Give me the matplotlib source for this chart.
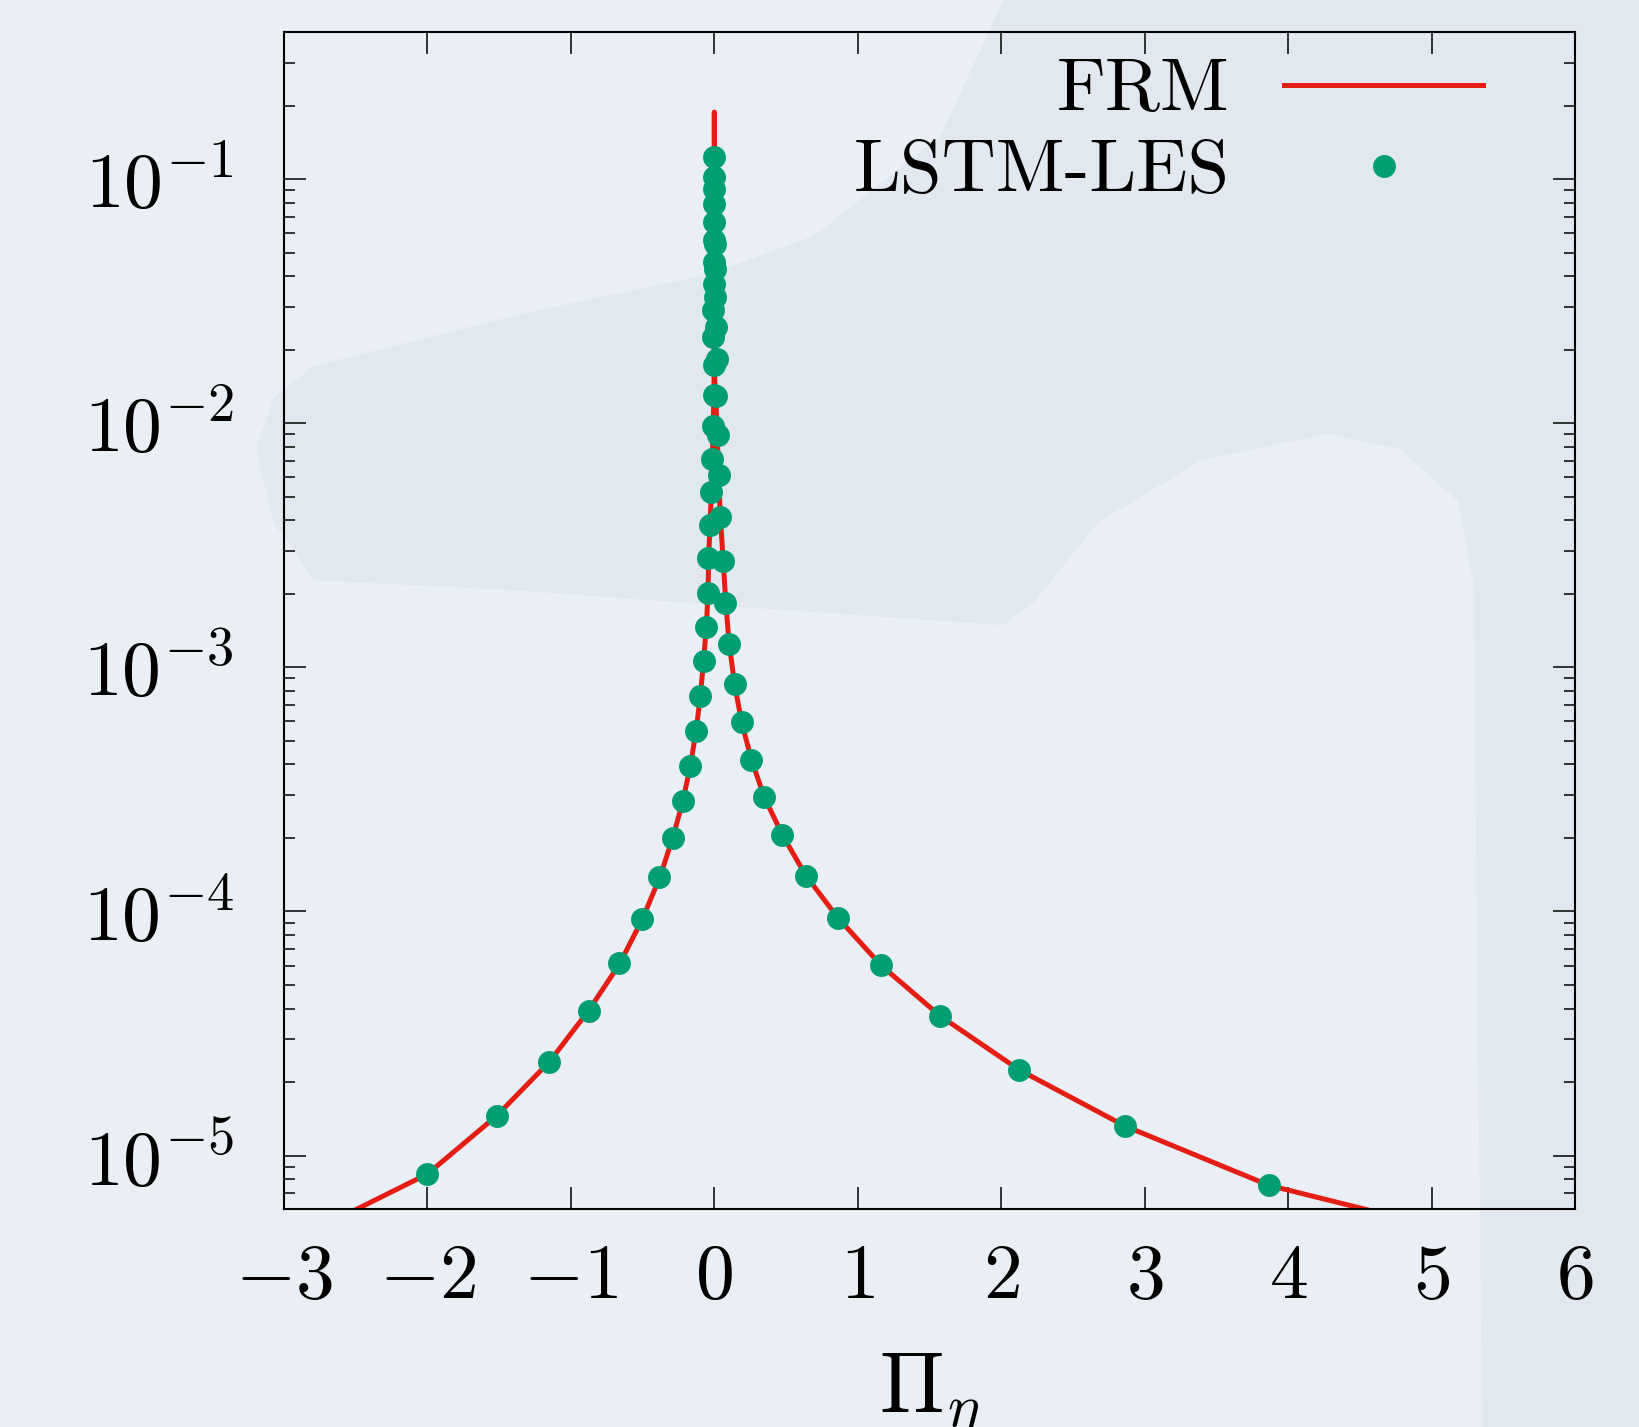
import matplotlib
matplotlib.use("Agg")
import matplotlib.pyplot as plt
from matplotlib.patches import Polygon
import numpy as np

plt.rcParams['font.family'] = 'serif'
plt.rcParams['font.serif'] = ['cmr10', 'DejaVu Serif']
plt.rcParams['mathtext.fontset'] = 'cm'
plt.rcParams['axes.formatter.use_mathtext'] = True
plt.rcParams['axes.unicode_minus'] = True

# ---------------- data ----------------
series_names = ["FRM", "LSTM-LES"]

# FRM curve (left branch bottom -> top -> right branch bottom)
frm_x = [-2.50, -2.00, -1.52, -1.15, -0.88, -0.66, -0.50, -0.38, -0.29, -0.22,
         -0.167, -0.127, -0.098, -0.075, -0.056, -0.044, -0.040, -0.030, -0.021,
         -0.014, -0.007, -0.002, 0.0,
         0.0, 0.003, 0.010, 0.020, 0.030, 0.042, 0.062, 0.080, 0.104, 0.141,
         0.190, 0.258, 0.348, 0.474, 0.639, 0.861, 1.163, 1.572, 2.122, 2.864,
         3.867, 4.55]
frm_y = [6.0e-6, 8.4e-6, 1.45e-5, 2.42e-5, 3.90e-5, 6.1e-5, 9.35e-5, 1.38e-4, 2.0e-4, 2.82e-4,
         3.95e-4, 5.5e-4, 7.6e-4, 1.06e-3, 1.46e-3, 2.0e-3, 2.8e-3, 3.84e-3, 5.2e-3,
         7.1e-3, 1.0e-2, 1.5e-2, 0.188,
         0.188, 1.5e-2, 1.29e-2, 8.95e-3, 6.1e-3, 4.12e-3, 2.73e-3, 1.83e-3, 1.24e-3, 8.55e-4,
         5.97e-4, 4.19e-4, 2.94e-4, 2.06e-4, 1.40e-4, 9.42e-5, 6.01e-5, 3.74e-5, 2.25e-5, 1.32e-5,
         7.55e-6, 6.0e-6]

# LSTM-LES points, left branch
les_left_x = [-2.00, -1.518, -1.154, -0.877, -0.664, -0.503, -0.383, -0.290, -0.221,
              -0.167, -0.127, -0.098, -0.075, -0.056, -0.044, -0.042, -0.028, -0.021,
              -0.016, -0.012, -0.005, -0.005, -0.007, -0.007, -0.002, -0.005, 0.0,
              0.0, 0.0, 0.0, 0.0, 0.0]
les_left_y = [8.43e-6, 1.45e-5, 2.42e-5, 3.90e-5, 6.12e-5, 9.35e-5, 1.38e-4, 2.0e-4, 2.82e-4,
              3.95e-4, 5.50e-4, 7.60e-4, 1.06e-3, 1.46e-3, 2.01e-3, 2.80e-3, 3.84e-3, 5.22e-3,
              7.14e-3, 9.75e-3, 1.31e-2, 1.73e-2, 2.25e-2, 2.91e-2, 3.72e-2, 4.58e-2, 5.62e-2,
              6.68e-2, 7.87e-2, 9.08e-2, 0.1016, 0.1227]

# LSTM-LES points, right branch
les_right_x = [3.867, 2.864, 2.122, 1.572, 1.163, 0.861, 0.639, 0.474, 0.348, 0.258,
               0.190, 0.141, 0.104, 0.077, 0.058, 0.040, 0.030, 0.023, 0.010, 0.016,
               0.012, 0.007, 0.007, 0.002]
les_right_y = [7.55e-6, 1.32e-5, 2.25e-5, 3.74e-5, 6.01e-5, 9.42e-5, 1.40e-4, 2.06e-4, 2.94e-4,
               4.19e-4, 5.97e-4, 8.55e-4, 1.24e-3, 1.83e-3, 2.73e-3, 4.12e-3, 6.11e-3, 8.95e-3,
               1.29e-2, 1.83e-2, 2.48e-2, 3.28e-2, 4.29e-2, 5.42e-2]

x_ticks = [-3, -2, -1, 0, 1, 2, 3, 4, 5, 6]
x_label = r"$\Pi_\eta$"

# ---------------- figure ----------------
W, H = 1639, 1427
fig = plt.figure(figsize=(W / 100, H / 100), dpi=100)
light = '#e9eff4'
dark = '#e2e8f0'
fig.patch.set_facecolor(light)

# background shading (screen-coordinates of reference, shown at 1568x1365)
sx, sy = 1568.0, 1365.0
bg_poly = [(300, 555), (262, 500), (245, 430), (262, 380), (300, 350), (500, 300),
           (680, 262), (780, 225), (900, 130), (960, 0), (1568, 0), (1568, 1365),
           (1418, 1365), (1413, 900), (1410, 560), (1395, 480), (1340, 430),
           (1270, 415), (1150, 440), (1050, 500), (990, 575), (960, 598), (700, 580),
           (500, 565)]
poly = Polygon([(x / sx, 1 - y / sy) for x, y in bg_poly], closed=True,
               transform=fig.transFigure, facecolor=dark, edgecolor='none', zorder=-10)
fig.patches.append(poly)

ax = fig.add_axes([284 / W, 1 - 1209 / H, (1575 - 284) / W, (1209 - 32.4) / H])
ax.set_facecolor('none')

red = '#e41e14'
green = '#009e73'
ax.plot(frm_x, frm_y, color=red, lw=3.6, label=series_names[0], zorder=2)
ax.plot(les_left_x + les_right_x, les_left_y + les_right_y, linestyle='none',
        marker='o', markersize=16.5, color=green, markeredgewidth=0,
        label=series_names[1], zorder=3)

ax.set_yscale('log')
ax.set_xlim(-3, 6)
ax.set_ylim(6.04e-6, 0.3986)
ax.set_xticks(x_ticks)

fs = 56
for s in ax.spines.values():
    s.set_linewidth(1.5)
ax.tick_params(axis='both', which='both', direction='in', top=True, right=True,
               labelsize=fs, width=1.1)
ax.tick_params(axis='both', which='major', length=16)
ax.tick_params(axis='y', which='minor', length=8)
ax.tick_params(axis='x', which='minor', bottom=False, top=False)
ax.tick_params(axis='y', which='major', pad=36)
ax.tick_params(axis='x', which='major', pad=25)

ax.set_xlabel(x_label, fontsize=62, labelpad=28)

leg = ax.legend(loc='upper right', bbox_to_anchor=(0.929, 0.978), frameon=False,
                markerfirst=False, fontsize=54, handlelength=2.66, handletextpad=0.72,
                labelspacing=0.18, borderpad=0, borderaxespad=0, numpoints=1)

fig.savefig('out.png', dpi=100, facecolor=fig.get_facecolor())
